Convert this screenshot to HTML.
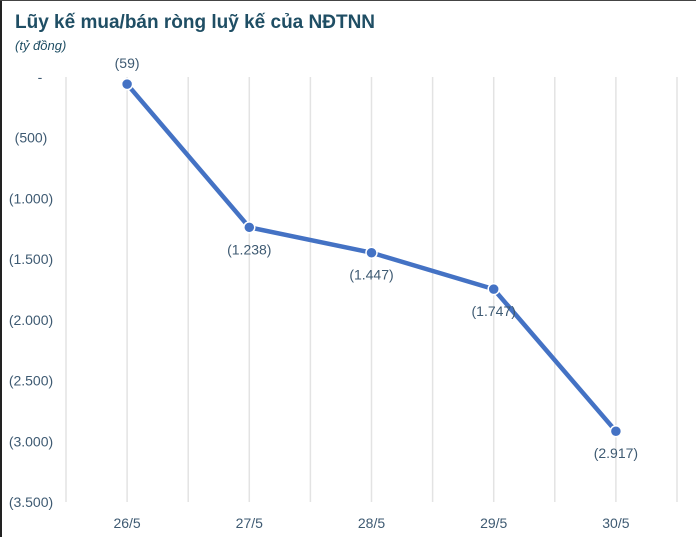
<!DOCTYPE html>
<html><head><meta charset="utf-8"><style>
body{margin:0;width:696px;height:537px;background:#fff;overflow:hidden;font-family:"Liberation Sans",sans-serif;}
</style></head><body>
<svg width="696" height="537" xmlns="http://www.w3.org/2000/svg">
<rect x="0" y="0" width="2" height="537" fill="#222"/>
<rect x="0" y="0" width="696" height="1" fill="#444"/>
<text x="15" y="28" font-size="19" font-weight="bold" fill="#1f4e64">Lũy kế mua/bán ròng luỹ kế của NĐTNN</text>
<text x="15" y="50" font-size="13" font-style="italic" fill="#1f4e64">(tỷ đồng)</text>
<g id="grid"></g>
<g id="yticks"></g>
<g id="xticks"></g>
<g id="series"></g>
</svg>
<script>
const categories=["26/5","27/5","28/5","29/5","30/5"];
const values=[-59,-1238,-1447,-1747,-2917];
const valueLabels=["(59)","(1.238)","(1.447)","(1.747)","(2.917)"];
const yTicks=[0,-500,-1000,-1500,-2000,-2500,-3000,-3500];
const yTickLabels=["-","(500)","(1.000)","(1.500)","(2.000)","(2.500)","(3.000)","(3.500)"];
const NS="http://www.w3.org/2000/svg";
const L=66,R=677,T=77,B=502,ymin=-3500,ymax=0;
const band=(R-L)/categories.length;
const x=i=>L+band*(i+0.5);
const y=v=>T+(ymax-v)/(ymax-ymin)*(B-T);
function mk(tag,attrs,parent){const e=document.createElementNS(NS,tag);for(const k in attrs)e.setAttribute(k,attrs[k]);parent.appendChild(e);return e;}
const grid=document.getElementById('grid');
for(let i=0;i<=categories.length*2;i++){const gx=L+band/2*i;
const ln=mk('line',{x1:gx,x2:gx,y1:T,y2:B,stroke:'#e3e3e3','stroke-width':1.5},grid);

}
const yt=document.getElementById('yticks');
yTicks.forEach((v,i)=>{const t=mk('text',{x:i==0?40:31,y:y(v)+5,'text-anchor':'middle','font-size':14,fill:'#3e5a72'},yt);t.textContent=yTickLabels[i];

});
const xt=document.getElementById('xticks');
categories.forEach((c,i)=>{const t=mk('text',{x:x(i),y:528,'text-anchor':'middle','font-size':14,fill:'#3e5a72'},xt);t.textContent=c;

});
const s=document.getElementById('series');
const pl=mk('polyline',{points:values.map((v,i)=>x(i)+','+y(v)).join(' '),fill:'none',stroke:'#4472c4','stroke-width':4.5,'stroke-linejoin':'round'},s);


values.forEach((v,i)=>{const c=mk('circle',{cx:x(i),cy:y(v),r:5.5,fill:'#4472c4',stroke:'#fff','stroke-width':1.5},s);


const ty=i==0?y(v)-16:y(v)+27;
const t=mk('text',{x:x(i),y:ty,'text-anchor':'middle','font-size':14,fill:'#3e5a72'},s);t.textContent=valueLabels[i];

});
</script>
</body></html>
